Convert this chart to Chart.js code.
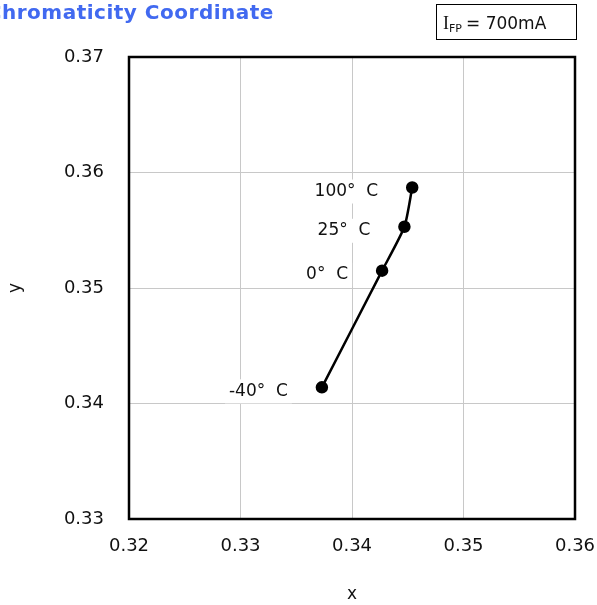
<!DOCTYPE html>
<html lang="en">
<head>
<meta charset="UTF-8">
<title>Chromaticity Coordinate</title>
<script src="https://cdn.jsdelivr.net/npm/chart.js"></script>
<style>
  html, body { margin: 0; padding: 0; background: #fff; }
  #wrap { position: relative; width: 597px; height: 605px; }
</style>
</head>
<body>
<div id="wrap"><canvas id="chart" width="597" height="605"></canvas></div>
<script>
const tempLabels = ['-40°  C', '0°  C', '25°  C', '100°  C'];
const xValues = [0.3373, 0.3427, 0.3447, 0.3454];
const yValues = [0.3414, 0.3515, 0.3553, 0.3587];
const xTicks = [0.32, 0.33, 0.34, 0.35, 0.36];
const yTicks = [0.33, 0.34, 0.35, 0.36, 0.37];

const FONT = "'DejaVu Sans', Verdana, sans-serif";

const points = xValues.map((x, i) => ({ x: x, y: yValues[i] }));

// labels next to each point, white box behind so grid lines are hidden
const pointLabels = {
  id: 'pointLabels',
  beforeDatasetsDraw(chart) {
    const ctx = chart.ctx;
    const xs = chart.scales.x, ys = chart.scales.y;
    ctx.save();
    ctx.font = '17px ' + FONT;
    ctx.textAlign = 'right';
    ctx.textBaseline = 'middle';
    points.forEach((p, i) => {
      const px = xs.getPixelForValue(p.x) - 34;
      const py = ys.getPixelForValue(p.y) + 4;
      const w = ctx.measureText(tempLabels[i]).width;
      ctx.fillStyle = '#fff';
      ctx.fillRect(px - w - 4, py - 12, w + 8, 24);
      ctx.fillStyle = '#111';
      ctx.fillText(tempLabels[i], px, py);
    });
    ctx.restore();
  }
};

// frame, title and current box
const decorations = {
  id: 'decorations',
  afterDraw(chart) {
    const ctx = chart.ctx;
    const a = chart.chartArea;
    ctx.save();
    ctx.strokeStyle = '#000';
    ctx.lineWidth = 2.5;
    ctx.strokeRect(a.left, a.top, a.right - a.left, a.bottom - a.top);

    ctx.font = 'bold 20px ' + FONT;
    ctx.letterSpacing = '0.5px';
    ctx.fillStyle = '#4169F0';
    ctx.textBaseline = 'alphabetic';
    ctx.textAlign = 'left';
    const cw = ctx.measureText('C').width;
    ctx.fillText('Chromaticity Coordinate', 2 - cw, 19);
    ctx.letterSpacing = '0px';

    ctx.lineWidth = 1;
    ctx.strokeRect(436.5, 4.5, 140, 35);
    ctx.fillStyle = '#111';
    ctx.font = "18px 'Liberation Serif', serif";
    ctx.fillText('I', 443, 29);
    ctx.font = "11px 'DejaVu Sans', sans-serif";
    ctx.fillText('FP', 449, 32);
    ctx.font = '17px ' + FONT;
    ctx.fillText('= 700mA', 466, 29);
    ctx.restore();
  }
};

new Chart(document.getElementById('chart'), {
  type: 'scatter',
  data: {
    datasets: [{
      data: points,
      showLine: true,
      tension: 0.2,
      borderColor: '#000',
      backgroundColor: '#000',
      borderWidth: 2.5,
      pointRadius: 5,
      pointHoverRadius: 5
    }]
  },
  options: {
    responsive: false,
    animation: false,
    layout: { padding: { top: 57, right: 22, left: 0, bottom: 0 } },
    plugins: { legend: { display: false }, tooltip: { enabled: false } },
    scales: {
      x: {
        type: 'linear',
        min: 0.32,
        max: 0.36,
        afterBuildTicks: s => { s.ticks = xTicks.map(v => ({ value: v })); },
        afterFit: s => { s.height = 86; s.paddingLeft = 0; s.paddingRight = 0; },
        grid: { color: '#c8c8c8', lineWidth: 1, drawTicks: false },
        border: { display: false },
        ticks: {
          padding: 17,
          color: '#111',
          font: { family: FONT, size: 18 },
          callback: v => v.toFixed(2)
        },
        title: {
          display: true,
          text: 'x',
          color: '#111',
          font: { family: FONT, size: 17 },
          padding: { top: 0, bottom: 0 }
        }
      },
      y: {
        type: 'linear',
        min: 0.33,
        max: 0.37,
        afterBuildTicks: s => { s.ticks = yTicks.map(v => ({ value: v })); },
        afterFit: s => { s.width = 129; s.paddingTop = 0; s.paddingBottom = 0; },
        grid: { color: '#c8c8c8', lineWidth: 1, drawTicks: false },
        border: { display: false },
        ticks: {
          padding: 25,
          color: '#111',
          font: { family: FONT, size: 18 },
          callback: v => v.toFixed(2)
        },
        title: {
          display: true,
          text: 'y',
          color: '#111',
          font: { family: FONT, size: 17 },
          padding: { top: 5, bottom: 0 }
        }
      }
    }
  },
  plugins: [pointLabels, decorations]
});
</script>
</body>
</html>
